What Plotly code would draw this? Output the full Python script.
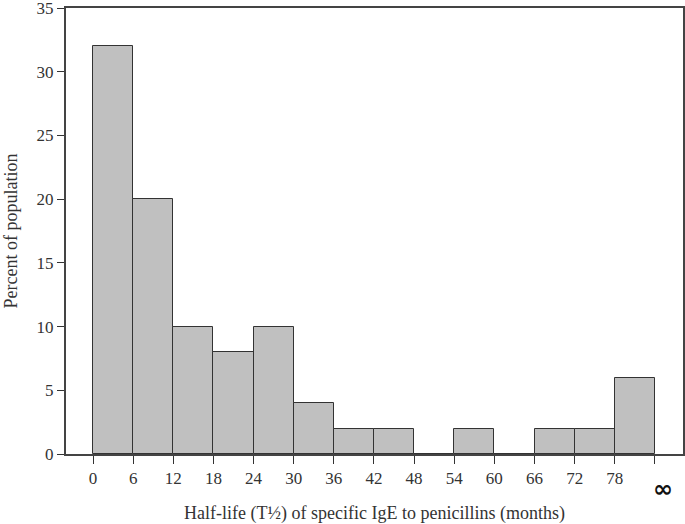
import plotly.graph_objects as go

bin_starts = [0, 6, 12, 18, 24, 30, 36, 42, 48, 54, 60, 66, 72, 78]
percent = [32, 20, 10, 8, 10, 4, 2, 2, 0, 2, 0, 2, 2, 6]
x_tick_vals = [0, 6, 12, 18, 24, 30, 36, 42, 48, 54, 60, 66, 72, 78, 84]
x_tick_text = ["0", "6", "12", "18", "24", "30", "36", "42", "48", "54", "60", "66", "72", "78", ""]
y_ticks = [0, 5, 10, 15, 20, 25, 30, 35]

font_family = "Liberation Serif, Times New Roman, serif"

fig = go.Figure(go.Bar(
    x=[s + 3 for s in bin_starts],
    y=percent,
    width=6,
    marker=dict(color="#c0c0c0", line=dict(color="#333333", width=1)),
))

fig.add_annotation(
    x=85.2, y=0, xref="x", yref="y", yshift=-35, text="<b>∞</b>",
    showarrow=False, font=dict(family="DejaVu Sans, sans-serif", size=24, color="#111111"),
)

fig.update_layout(
    width=685, height=524,
    margin=dict(l=66, r=2, t=8, b=70),
    plot_bgcolor="white", paper_bgcolor="white",
    showlegend=False, bargap=0,
    font=dict(family=font_family, size=17, color="#333333"),
    xaxis=dict(
        range=[-4.04, 88.2], tickvals=x_tick_vals, ticktext=x_tick_text,
        ticks="outside", ticklen=8, tickcolor="#333333", tickwidth=1,
        showline=True, linecolor="#444444", linewidth=2, mirror=True,
        showgrid=False, zeroline=False, automargin=False,
        tickfont=dict(size=17), ticklabeloverflow="allow",
        title=dict(text="Half-life (T½) of specific IgE to penicillins (months)",
                   font=dict(size=18), standoff=19),
    ),
    yaxis=dict(
        range=[0, 35], tickvals=y_ticks,
        ticks="outside", ticklen=7, tickcolor="#333333", tickwidth=1,
        showline=True, linecolor="#444444", linewidth=2, mirror=True,
        showgrid=False, zeroline=False, automargin=False,
        tickfont=dict(size=17), ticklabeloverflow="allow",
        title=dict(text="Percent of population", font=dict(size=18), standoff=14),
    ),
)

fig.write_html("out.html", config={"displayModeBar": False},
               post_script="document.body.style.margin='0';")
